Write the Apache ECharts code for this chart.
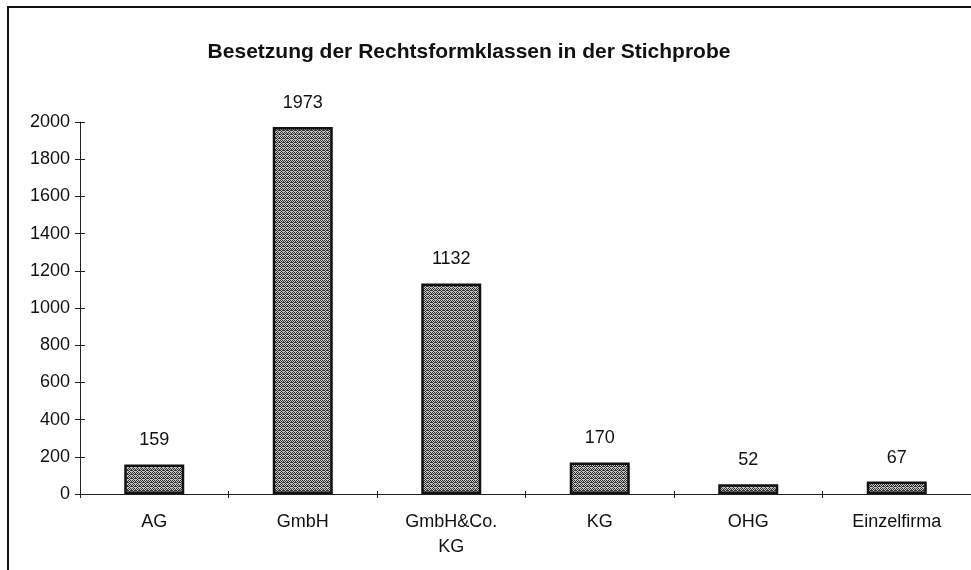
<!DOCTYPE html>
<html>
<head>
<meta charset="utf-8">
<script src="https://cdn.jsdelivr.net/npm/echarts@6/dist/echarts.min.js"></script>
<style>
  html, body { margin: 0; padding: 0; background: #fff; }
  #chart { width: 971px; height: 570px; }
</style>
</head>
<body>
<div id="chart"></div>
<script>
const chartTitle = "Besetzung der Rechtsformklassen in der Stichprobe";
const categories = ["AG", "GmbH", "GmbH&Co.\nKG", "KG", "OHG", "Einzelfirma"];
const counts = [159, 1973, 1132, 170, 52, 67];
const yTicks = { min: 0, max: 2000, step: 200 };

// dithered grey fill, like the scanned raster
function makeDither() {
  const c = document.createElement("canvas");
  c.width = 4;
  c.height = 4;
  const g = c.getContext("2d");
  g.fillStyle = "#c4c4c4";
  g.fillRect(0, 0, 4, 4);
  g.fillStyle = "#333";
  [[0, 0], [2, 0], [1, 1], [3, 2], [0, 2], [2, 2], [1, 3], [3, 1]].forEach(([x, y]) => {
    g.fillRect(x, y, 1, 1);
  });
  return c;
}

const font = "'Liberation Sans', Arial, sans-serif";
const chart = echarts.init(document.getElementById("chart"), null, { renderer: "canvas" });

const grid = { left: 80, top: 122, width: 894, height: 372 };

chart.setOption({
  animation: false,
  backgroundColor: "#fff",
  title: {
    text: chartTitle,
    left: 464,
    textAlign: "center",
    top: 37,
    textStyle: { fontFamily: font, fontSize: 21, fontWeight: "bold", color: "#111" },
  },
  graphic: [
    {
      type: "rect",
      shape: { x: 8, y: 7, width: 1000, height: 620 },
      style: { fill: null, stroke: "#111", lineWidth: 2 },
      silent: true,
    },
  ],
  grid: grid,
  xAxis: [
    {
      type: "category",
      data: categories,
      axisLine: { lineStyle: { color: "#222", width: 1 } },
      axisTick: { show: true, length: 4, lineStyle: { color: "#222" } },
      axisLabel: {
        color: "#111",
        fontFamily: font,
        fontSize: 18,
        lineHeight: 25,
        margin: 16,
        interval: 0,
      },
    },
    {
      type: "category",
      data: categories,
      position: "bottom",
      axisLine: { show: false },
      axisTick: { show: true, inside: true, length: 3, lineStyle: { color: "#222" } },
      axisLabel: { show: false },
    },
  ],
  yAxis: [
    {
      type: "value",
      min: yTicks.min,
      max: yTicks.max,
      interval: yTicks.step,
      axisLine: { show: true, lineStyle: { color: "#222", width: 1 } },
      axisTick: { show: true, length: 5, lineStyle: { color: "#222" } },
      splitLine: { show: false },
      axisLabel: {
        color: "#111",
        fontFamily: font,
        fontSize: 18,
        margin: 10,
        formatter: (v) => String(v),
      },
    },
    {
      type: "value",
      min: yTicks.min,
      max: yTicks.max,
      interval: yTicks.step,
      position: "left",
      axisLine: { show: false },
      axisTick: { show: true, inside: true, length: 5, lineStyle: { color: "#222" } },
      splitLine: { show: false },
      axisLabel: { show: false },
    },
  ],
  series: [
    {
      type: "bar",
      data: counts,
      barWidth: 60,
      itemStyle: {
        color: { image: makeDither(), repeat: "repeat" },
        borderColor: "#111",
        borderWidth: 2.5,
      },
      label: {
        show: true,
        position: "top",
        distance: 15,
        color: "#111",
        fontFamily: font,
        fontSize: 18,
      },
    },
  ],
});
</script>
</body>
</html>
